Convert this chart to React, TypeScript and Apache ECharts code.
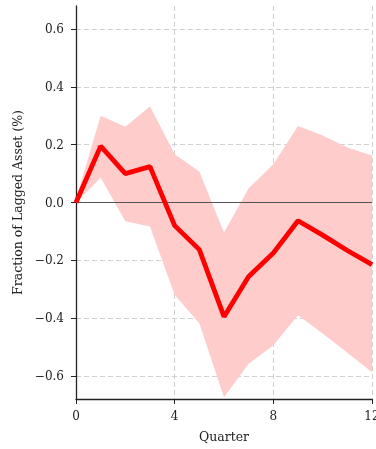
import React, { useEffect, useRef } from "react";
import * as echarts from "echarts";

const quarters = [0, 1, 2, 3, 4, 5, 6, 7, 8, 9, 10, 11, 12];
const estimate = [0, 0.195, 0.1, 0.124, -0.08, -0.163, -0.395, -0.256, -0.175, -0.063, -0.113, -0.166, -0.215];
const upper = [0.01, 0.3, 0.262, 0.333, 0.167, 0.107, -0.104, 0.049, 0.132, 0.265, 0.232, 0.19, 0.163];
const lower = [0, 0.086, -0.065, -0.083, -0.32, -0.418, -0.674, -0.558, -0.494, -0.39, -0.453, -0.52, -0.587];
const yTicks = [-0.6, -0.4, -0.2, 0, 0.2, 0.4, 0.6];

const FONT = "DejaVu Serif";

function fmt(v: number): string {
  const s = Math.abs(v).toFixed(1);
  return v < -1e-9 ? "\u2212" + s : s;
}

export default function App() {
  const ref = useRef<HTMLDivElement>(null);
  useEffect(() => {
    if (!ref.current) return;
    const chart = echarts.init(ref.current, undefined, { renderer: "svg" });
    const lineData = quarters.map((q, i) => [q, estimate[i]]);
    chart.setOption({
      animation: false,
      grid: { left: 76, right: 4, top: 6, bottom: 50, containLabel: false, outerBoundsMode: "none" },
      xAxis: {
        type: "value",
        min: 0,
        max: 12,
        interval: 4,
        name: "Quarter",
        nameLocation: "middle",
        nameGap: 31,
        nameTextStyle: { fontFamily: FONT, fontSize: 12.5, color: "#222" },
        axisLine: { show: true, onZero: false, lineStyle: { color: "#222", width: 1.3 } },
        axisTick: { show: true, inside: false, length: 5, lineStyle: { color: "#222", width: 1 } },
        axisLabel: { fontFamily: FONT, fontSize: 12, color: "#222", margin: 11 },
        splitLine: { show: true, lineStyle: { color: "#d0d0d0", type: [5, 3], width: 1 } },
      },
      yAxis: {
        type: "value",
        min: -0.68,
        max: 0.68,
        name: "Fraction of Lagged Asset (%)",
        nameLocation: "middle",
        nameGap: 52,
        nameTextStyle: { fontFamily: FONT, fontSize: 12.5, color: "#222" },
        axisLine: { show: true, onZero: false, lineStyle: { color: "#222", width: 1.3 } },
        axisTick: { show: true, length: 5, customValues: yTicks, lineStyle: { color: "#222", width: 1 } },
        axisLabel: {
          fontFamily: FONT,
          fontSize: 12,
          color: "#222",
          margin: 12,
          customValues: yTicks,
          formatter: (v: number) => fmt(v),
        },
        splitLine: { show: true, lineStyle: { color: "#d0d0d0", type: [5, 3], width: 1 } },
      },
      series: [
        {
          type: "custom",
          data: [[0, 0]],
          silent: true,
          z: 1,
          renderItem: (_params: any, api: any) => {
            const pts: number[][] = [];
            for (let i = 0; i < quarters.length; i++) pts.push(api.coord([quarters[i], upper[i]]));
            for (let i = quarters.length - 1; i >= 0; i--) pts.push(api.coord([quarters[i], lower[i]]));
            return {
              type: "polygon",
              shape: { points: pts },
              style: { fill: "#ffcccc", stroke: "none" },
            };
          },
        },
        {
          type: "line",
          data: [[0, 0], [12, 0]],
          symbol: "none",
          silent: true,
          lineStyle: { color: "#555", width: 1 },
          z: 2,
        },
        {
          type: "line",
          data: lineData,
          symbol: "none",
          lineStyle: { color: "#ff0000", width: 4.8 },
          z: 5,
        },
      ],
    });
    return () => chart.dispose();
  }, []);
  return (
    <div
      ref={ref}
      style={{ position: "fixed", left: 0, top: 0, width: 376, height: 449 }}
    />
  );
}
